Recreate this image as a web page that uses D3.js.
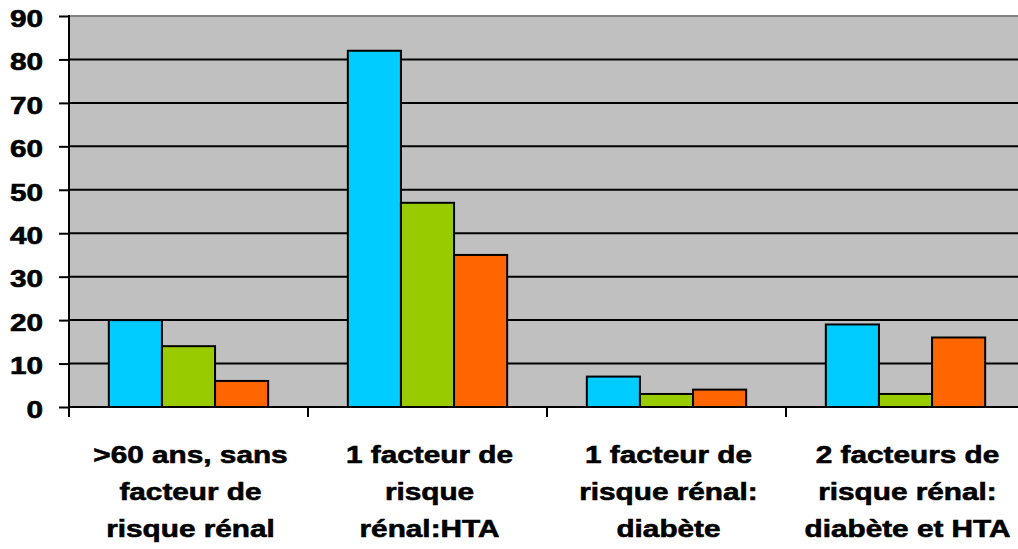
<!DOCTYPE html>
<html>
<head>
<meta charset="utf-8">
<script src="https://cdn.jsdelivr.net/npm/d3@7"></script>
<style>
  html, body { margin: 0; padding: 0; background: #fff; }
  svg { display: block; }
  text { font-family: "Liberation Sans", Arial, sans-serif; font-weight: bold; fill: #000; }
</style>
</head>
<body>
<svg id="chart" width="1018" height="549"></svg>
<script>
const categories = [
  [">60 ans, sans", "facteur de", "risque rénal"],
  ["1 facteur de", "risque", "rénal:HTA"],
  ["1 facteur de", "risque rénal:", "diabète"],
  ["2 facteurs de", "risque rénal:", "diabète et HTA"]
];
const seriesNames = ["Série 1", "Série 2", "Série 3"];
const seriesBlue = [20, 82, 7, 19];
const seriesGreen = [14, 47, 3, 3];
const seriesOrange = [6, 35, 4, 16];
const seriesColors = ["#00CCFF", "#99CC00", "#FF6600"];
const yTicks = [0, 10, 20, 30, 40, 50, 60, 70, 80, 90];

const allSeries = [seriesBlue, seriesGreen, seriesOrange];
const svg = d3.select("#chart");
const mLeft = 69, mRight = 1025, mTop = 16, mBottom = 407;
const sx = 1.24; // horizontal text stretch seen in the reference
const fs = 24;

const catIdx = categories.map((d, i) => i);
const x0 = d3.scaleBand().domain(catIdx).range([mLeft, mRight]).paddingInner(0).paddingOuter(0);
const x1 = d3.scaleBand().domain(seriesNames).range([0, x0.bandwidth()]).paddingInner(0).paddingOuter(0.75);
const y = d3.scaleLinear().domain([0, 90]).range([mBottom, mTop]);

// plot background
svg.append("rect").attr("x", mLeft).attr("y", mTop)
  .attr("width", mRight - mLeft).attr("height", mBottom - mTop)
  .attr("fill", "#C0C0C0");

// gridlines
svg.append("g").selectAll("line").data(yTicks.filter(t => t > 0 && t < 90)).join("line")
  .attr("x1", mLeft).attr("x2", mRight)
  .attr("y1", d => y(d)).attr("y2", d => y(d))
  .attr("stroke", "#000").attr("stroke-width", 2);
// top border
svg.append("line").attr("x1", mLeft).attr("x2", mRight).attr("y1", y(90)).attr("y2", y(90))
  .attr("stroke", "#808080").attr("stroke-width", 2);

// bars
const groups = svg.append("g").selectAll("g").data(catIdx).join("g")
  .attr("transform", i => `translate(${x0(i)},0)`);
groups.selectAll("rect").data(i => allSeries.map((s, k) => ({k, v: s[i]}))).join("rect")
  .attr("x", d => x1(seriesNames[d.k]))
  .attr("y", d => y(d.v))
  .attr("width", x1.bandwidth())
  .attr("height", d => y(0) - y(d.v))
  .attr("fill", d => seriesColors[d.k])
  .attr("stroke", "#000").attr("stroke-width", 2);

// y axis
const yAxis = svg.append("g").attr("transform", `translate(${mLeft},0)`)
  .call(d3.axisLeft(y).tickValues(yTicks).tickSize(10).tickSizeOuter(0));
yAxis.select(".domain").remove();
yAxis.selectAll(".tick line").attr("stroke", "#000").attr("stroke-width", 2);
yAxis.selectAll(".tick text")
  .attr("font-size", fs)
  .attr("x", -26 / sx)
  .attr("dy", "0.43em")
  .attr("transform", `scale(${sx},1)`)
  .attr("stroke", "#000").attr("stroke-width", 0.6)
  .style("font-family", '"Liberation Sans", Arial, sans-serif')
  .style("font-weight", "bold");
svg.append("line").attr("x1", mLeft).attr("x2", mLeft).attr("y1", mTop - 1).attr("y2", mBottom + 10)
  .attr("stroke", "#000").attr("stroke-width", 2);

// x axis (zero line and category boundary ticks)
svg.append("line").attr("x1", mLeft).attr("x2", mRight).attr("y1", y(0)).attr("y2", y(0))
  .attr("stroke", "#000").attr("stroke-width", 2);
svg.append("g").selectAll("line").data(catIdx.slice(1).concat([categories.length])).join("line")
  .attr("x1", i => mLeft + i * x0.step()).attr("x2", i => mLeft + i * x0.step())
  .attr("y1", y(0)).attr("y2", y(0) + 10)
  .attr("stroke", "#000").attr("stroke-width", 2);

// category labels
const labels = svg.append("g").selectAll("text").data(catIdx).join("text")
  .attr("font-size", fs)
  .attr("text-anchor", "middle")
  .attr("stroke", "#000").attr("stroke-width", 0.6)
  .attr("transform", i => `translate(${x0(i) + x0.bandwidth() / 2 + 2},0) scale(${sx},1)`);
labels.selectAll("tspan").data(i => categories[i]).join("tspan")
  .attr("x", 0)
  .attr("y", (d, j) => 463 + j * 37)
  .text(d => d);
</script>
</body>
</html>
